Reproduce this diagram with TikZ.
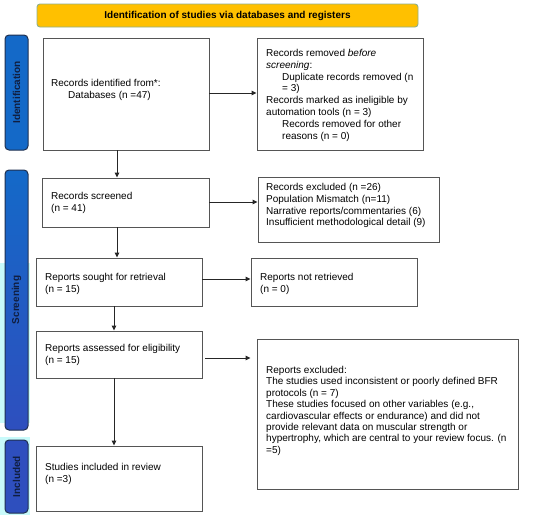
\documentclass[tikz,border=0pt]{standalone}
\usepackage{fontspec}
\setmainfont{Liberation Sans}
\usetikzlibrary{arrows.meta,calc}
\definecolor{hdrfill}{HTML}{FFC000}
\definecolor{hdrline}{HTML}{8FAF8A}
\definecolor{bartop}{HTML}{1469C8}
\definecolor{barmid}{HTML}{1F5DC4}
\definecolor{barbot}{HTML}{2E4FBE}
\definecolor{barline}{HTML}{1F3050}
\definecolor{bartext}{HTML}{101E40}
\definecolor{cyanbg}{HTML}{C8FAFA}
\definecolor{boxline}{HTML}{555555}
\tikzset{
  box/.style={draw=boxline, line width=0.9pt, fill=white, inner sep=0pt, minimum width=#1},
  txt/.style={anchor=north west, inner sep=0pt, align=left, font=\fontsize{10}{11.8}\selectfont},
  arr/.style={draw=black!85, line width=0.9pt, -{Triangle[length=5pt,width=4.5pt]}},
  sidebar/.style={draw=barline, line width=1pt, rounded corners=4pt, inner sep=0pt},
  sidetxt/.style={rotate=90, text=bartext, font=\bfseries\fontsize{10}{11}\selectfont, inner sep=0pt},
}
\begin{document}
\begin{tikzpicture}[x=1pt,y=-1pt]
\useasboundingbox (0,0) rectangle (550,515);
\fill[white] (0,0) rectangle (550,515);
% cyan artefact strips
\fill[cyanbg] (0,263) rectangle (30,423);
\fill[cyanbg] (0,437) rectangle (30,515);
% header
\node[draw=hdrline, line width=0.9pt, fill=hdrfill, rounded corners=3pt, minimum width=381pt, minimum height=23pt, inner sep=0pt,
  font=\bfseries\fontsize{10}{11}\selectfont] (hdr) at (227.5,15.5) {Identification of studies via databases and registers};
% side bars
\node[sidebar, fill=bartop, minimum width=23pt, minimum height=115pt] (sb1) at (16.5,92.5) {};
\node[sidetxt] (sl1) at (sb1.center) {Identification};
\node[sidebar, top color=bartop, bottom color=barbot, minimum width=23pt, minimum height=260pt] (sb2) at (16.5,300) {};
\node[sidetxt] (sl2) at (sb2.center) {Screening};
\node[sidebar, fill=barbot, minimum width=23pt, minimum height=73pt] (sb3) at (16.5,476.5) {};
\node[sidetxt] (sl3) at (sb3.center) {Included};
% boxes
\node[box=166pt, minimum height=112pt] (b1) at (126,94) {};
\node[box=166pt, minimum height=112pt] (b2) at (340,94) {};
\node[box=167pt, minimum height=49pt] (b3) at (125.5,202.5) {};
\node[box=181pt, minimum height=65pt] (b4) at (348.5,209.5) {};
\node[box=166pt, minimum height=48pt] (b5) at (119,282) {};
\node[box=166pt, minimum height=48pt] (b6) at (334,282) {};
\node[box=166pt, minimum height=47pt] (b7) at (119,354.5) {};
\node[box=261pt, minimum height=150pt] (b8) at (387.5,414) {};
\node[box=166pt, minimum height=65pt] (b9) at (119,478.5) {};
% texts
\node[txt] (t1) at (51,79) {Records identified from*:\\\hspace*{17pt}Databases (n =47)};
\node[txt] (t2) at (266,49) {Records removed \textit{before}\\\textit{screening}:\\
\hspace*{16pt}Duplicate records removed (n\\\hspace*{16pt}= 3)\\
Records marked as ineligible by\\automation tools (n = 3)\\
\hspace*{16pt}Records removed for other\\\hspace*{16pt}reasons (n = 0)};
\node[txt] (t3) at (51,192) {Records screened\\(n = 41)};
\node[txt] (t4) at (266,183) {Records excluded (n =26)\\Population Mismatch (n=11)\\Narrative reports/commentaries (6)\\Insufficient methodological detail (9)};
\node[txt] (t5) at (45,273) {Reports sought for retrieval\\(n = 15)};
\node[txt] (t6) at (260,273) {Reports not retrieved\\(n = 0)};
\node[txt] (t7) at (45,344) {Reports assessed for eligibility\\(n = 15)};
\node[txt, font=\fontsize{10}{11.4}\selectfont] (t8) at (266,366) {Reports excluded:\\The studies used inconsistent or poorly defined BFR\\protocols (n = 7)\\These studies focused on other variables (e.g.,\\cardiovascular effects or endurance) and did not\\provide relevant data on muscular strength or\\hypertrophy, which are central to your review focus. (n\\=5)};
\node[txt] (t9) at (45,463) {Studies included in review\\(n =3)};
% helper coordinates
\coordinate (xa) at (117,0);
\coordinate (xb) at (114,0);
\coordinate (y93) at (0,93);
\coordinate (y202) at (0,202);
\coordinate (y279) at (0,279);
\coordinate (y358) at (0,358);
% connectors
\draw[arr] (b1.east |- y93) -- (b2.west |- y93);
\draw[arr] (xa |- b1.south) -- (xa |- b3.north);
\draw[arr] (b3.east |- y202) -- (b4.west |- y202);
\draw[arr] (xa |- b3.south) -- (xa |- b5.north);
\draw[arr] (b5.east |- y279) -- (b6.west |- y279);
\draw[arr] (xb |- b5.south) -- (xb |- b7.north);
\draw[arr, shorten <=3pt, shorten >=6pt] (b7.east |- y358) -- (b8.west |- y358);
\draw[arr] (xb |- b7.south) -- (xb |- b9.north);
\end{tikzpicture}
\end{document}
